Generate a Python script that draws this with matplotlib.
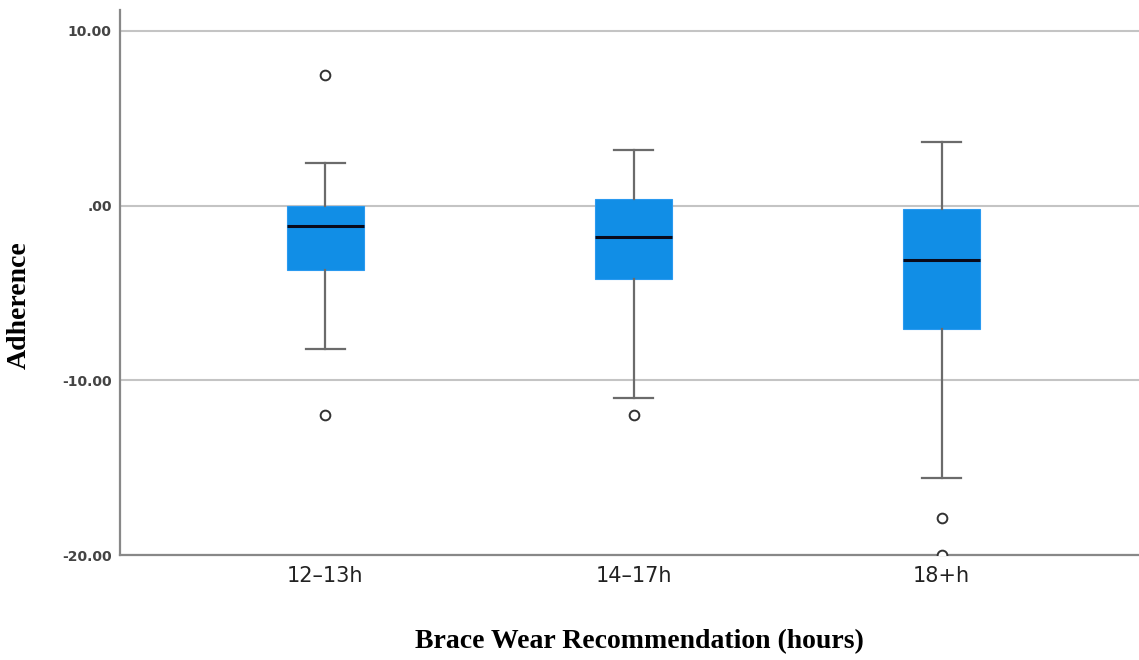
import matplotlib.pyplot as plt

categories = ["12\u201313h", "14\u201317h", "18+h"]
q1 = [-3.68, -4.2, -7.07]
med = [-1.19, -1.78, -3.1]
q3 = [0.0, 0.4, -0.19]
whislo = [-8.2, -11.0, -15.6]
whishi = [2.41, 3.2, 3.63]
outliers = [[7.5, -12.0], [-12.0], [-17.9, -20.0]]

stats = []
for i, name in enumerate(categories):
    stats.append(dict(label=name, q1=q1[i], med=med[i], q3=q3[i],
                      whislo=whislo[i], whishi=whishi[i], fliers=outliers[i]))

fig = plt.figure(figsize=(11.39, 6.6), dpi=100)
ax = fig.add_axes([0.1054, 0.159, 0.8946, 0.826])

ax.bxp(stats, positions=[1, 2, 3], widths=0.25, patch_artist=True,
       boxprops=dict(facecolor="#118ee6", edgecolor="#2a9af0", linewidth=0.8),
       medianprops=dict(color="#0a0a1a", linewidth=2.2),
       whiskerprops=dict(color="#6b6b6b", linewidth=1.6),
       capprops=dict(color="#6b6b6b", linewidth=1.6),
       flierprops=dict(marker="o", markerfacecolor="white", markeredgecolor="#333333",
                       markersize=7, markeredgewidth=1.4),
       zorder=3)

ax.set_xlim(0.334, 3.64)
ax.set_ylim(-20, 11.2)
ax.set_yticks([10, 0, -10, -20])
ax.set_yticklabels(["10.00", ".00", "-10.00", "-20.00"], fontsize=10, fontweight="bold", color="#444444")
ax.set_xticks([1, 2, 3])
ax.set_xticklabels(categories, fontsize=15, color="#222222")
ax.tick_params(axis="both", length=0)
ax.tick_params(axis="x", pad=8)
ax.tick_params(axis="y", pad=6)

ax.grid(axis="y", color="#c4c4c4", linewidth=1.5, zorder=0)
ax.set_axisbelow(True)
for s in ["top", "right"]:
    ax.spines[s].set_visible(False)
for s in ["left", "bottom"]:
    ax.spines[s].set_color("#888888")
    ax.spines[s].set_linewidth(1.6)

ax.set_ylabel("Adherence", fontsize=20, fontweight="bold", family="Liberation Serif")
ax.set_xlabel("Brace Wear Recommendation (hours)", fontsize=20, fontweight="bold",
              family="Liberation Serif")
ax.yaxis.set_label_coords(-0.087, 0.459)
ax.xaxis.set_label_coords(0.51, -0.136)

fig.savefig("out.png", dpi=100)
